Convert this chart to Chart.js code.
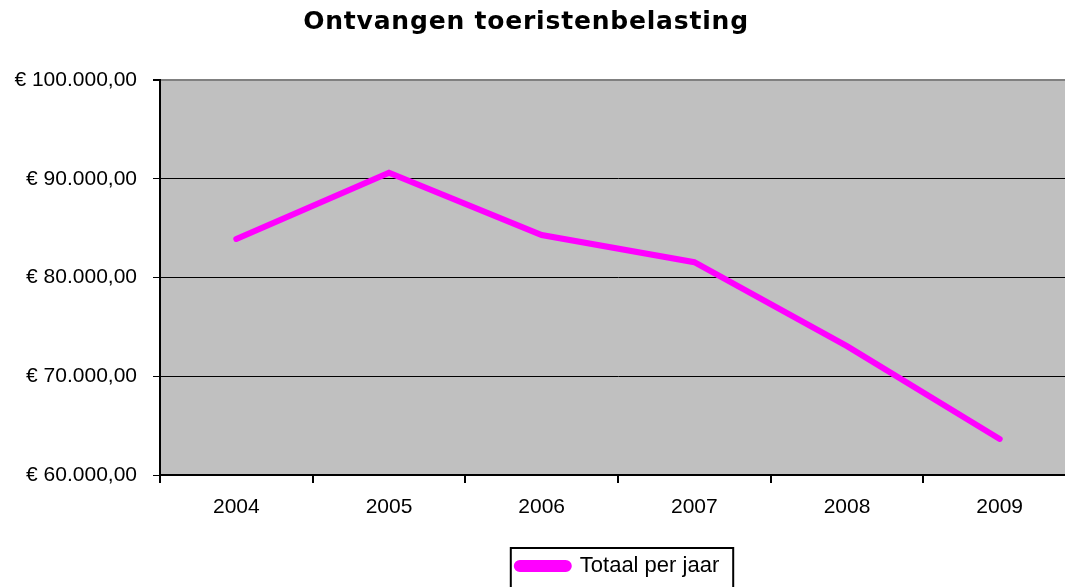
<!DOCTYPE html>
<html>
<head>
<meta charset="utf-8">
<script src="https://cdn.jsdelivr.net/npm/chart.js@4"></script>
<style>
  html, body { margin: 0; padding: 0; background: #fff; overflow: hidden; }
  #wrap { width: 1080px; height: 587px; }
</style>
</head>
<body>
<div id="wrap"><canvas id="line-graph"></canvas></div>
<script>
const jaren = ['2004', '2005', '2006', '2007', '2008', '2009'];
const totaalPerJaar = [83900, 90600, 84300, 81550, 73050, 63650];
const yTicks = [60000, 70000, 80000, 90000, 100000];

function euro(v) {
  const s = Math.round(v).toString().replace(/\B(?=(\d{3})+(?!\d))/g, '.');
  return '€ ' + s + ',00';
}

const plotBg = {
  id: 'plotBg',
  beforeDraw(chart) {
    const a = chart.chartArea, ctx = chart.ctx;
    ctx.save();
    ctx.fillStyle = '#C0C0C0';
    ctx.fillRect(a.left, a.top, a.right - a.left, a.bottom - a.top);
    ctx.restore();
  },
  afterDraw(chart) {
    const ctx = chart.ctx;
    // title
    ctx.save();
    ctx.font = 'bold 25px "DejaVu Sans", Verdana, sans-serif';
    ctx.letterSpacing = '0.8px';
    ctx.fillStyle = '#000';
    ctx.textAlign = 'center';
    ctx.textBaseline = 'middle';
    ctx.fillText('Ontvangen toeristenbelasting', 526, 22);
    ctx.letterSpacing = '0px';
    // legend frame
    const hb = chart.legend.legendHitBoxes[0];
    if (hb) {
      ctx.strokeStyle = '#000';
      ctx.lineWidth = 2;
      ctx.strokeRect(hb.left - 6, chart.legend.top, hb.width + 20, 60);
    }
    ctx.restore();
  }
};

const lg = document.getElementById('line-graph');

const data = {
  labels: jaren,
  datasets: [{
    label: 'Totaal per jaar',
    data: totaalPerJaar,
    fill: false,
    borderColor: '#FF00FF',
    backgroundColor: '#FF00FF',
    borderWidth: 6,
    borderCapStyle: 'round',
    pointRadius: 0,
    tension: 0
  }]
};

const options = {
  responsive: true,
  maintainAspectRatio: false,
  animation: false,
  layout: { padding: { top: 80, left: 0, right: 4, bottom: 0 } },
  scales: {
    x: {
      offset: true,
      afterFit(scale) { scale.height = 73; },
      border: { display: true, color: '#000', width: 2 },
      grid: {
        offset: true,
        drawOnChartArea: false,
        drawTicks: true,
        tickLength: 8,
        color: '#000',
        lineWidth: 2
      },
      ticks: {
        color: '#000',
        padding: 12,
        font: { family: '"Liberation Sans", Arial, sans-serif', size: 21 }
      }
    },
    y: {
      min: 60000,
      max: 100000,
      afterFit(scale) { scale.width = 160; },
      afterBuildTicks(scale) { scale.ticks = yTicks.map(v => ({ value: v })); },
      border: { display: true, color: '#000', width: 2 },
      grid: {
        color: ctx => (ctx.tick && ctx.tick.value === 100000) ? '#808080' : '#000',
        lineWidth: ctx => (ctx.tick && ctx.tick.value === 100000) ? 2 : 1,
        tickColor: '#000',
        tickLength: 7
      },
      ticks: {
        color: '#000',
        padding: 16,
        callback: v => euro(v),
        font: { family: '"Liberation Sans", Arial, sans-serif', size: 21 }
      }
    }
  },
  plugins: {
    title: { display: false },
    tooltip: { enabled: false },
    legend: {
      position: 'bottom',
      fullSize: false,
      labels: {
        color: '#000',
        boxWidth: 52,
        boxHeight: 6,
        padding: 7,
        useBorderRadius: true,
        borderRadius: 3,
        font: { family: '"Liberation Sans", Arial, sans-serif', size: 22 }
      }
    }
  }
};

let line = new Chart(lg, {
  type: 'line',
  data: data,
  options: options,
  plugins: [plotBg]
});
</script>
</body>
</html>
